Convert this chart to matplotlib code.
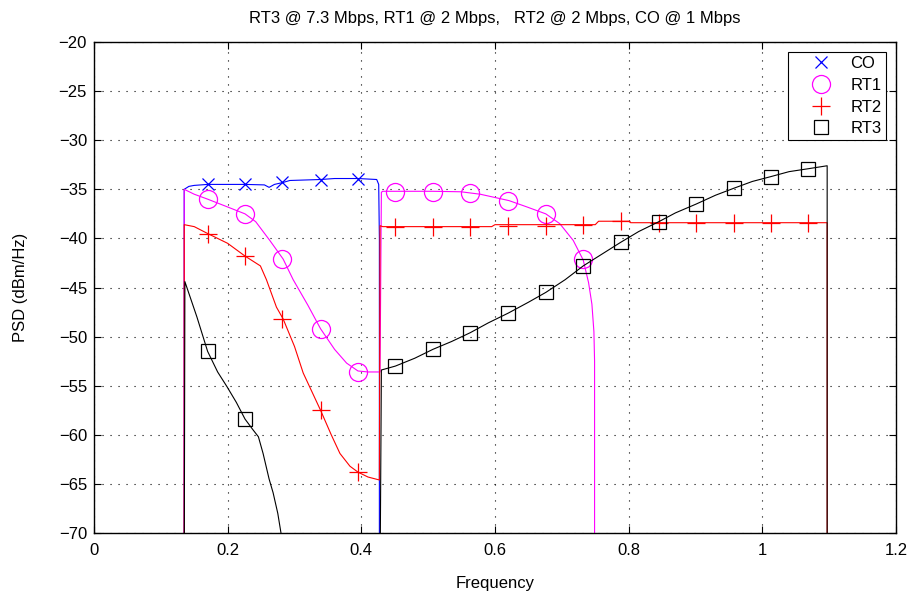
import numpy as np
import matplotlib
matplotlib.use("Agg")
import matplotlib.pyplot as plt

plt.rcParams['font.family'] = ['Liberation Sans', 'DejaVu Sans']

nan = np.nan

# posiciones comunes de los marcadores
mk_x = [0.170, 0.226, 0.282, 0.339, 0.395, 0.451, 0.507, 0.563, 0.620,
        0.676, 0.732, 0.788, 0.845, 0.901, 0.957, 1.013, 1.069]

# CO
co_x = [0.135, 0.135, 0.142, 0.15, 0.17, 0.226, 0.255, 0.262, 0.27, 0.283,
        0.293, 0.339, 0.36, 0.395, 0.423, 0.426, 0.427, 0.427]
co_y = [-75, -35.0, -34.7, -34.6, -34.5, -34.5, -34.55, -34.8, -34.5, -34.3,
        -34.1, -34.0, -33.9, -33.9, -34.0, -34.5, -40, -75]
co_mk = [-34.5, -34.5, -34.3, -34.1, -33.9] + [nan] * 12

# RT1
rt1_x = [0.135, 0.135, 0.15, 0.17, 0.20, 0.226, 0.242, 0.263, 0.283, 0.298,
         0.32, 0.339, 0.36, 0.378, 0.395, 0.41, 0.428, 0.430, 0.432, 0.451,
         0.507, 0.549, 0.578, 0.621, 0.648, 0.676, 0.697, 0.717, 0.732, 0.740,
         0.745, 0.748, 0.749, 0.749]
rt1_y = [-75, -35.0, -35.5, -36.0, -36.8, -37.5, -38.3, -40.2, -42.1, -44.2,
         -46.8, -49.2, -51.3, -52.7, -53.5, -53.6, -53.6, -35.3, -35.2, -35.2,
         -35.2, -35.25, -35.5, -36.15, -36.8, -37.5, -38.5, -40.2, -42.2, -44.5,
         -46.7, -49.5, -52.5, -75]
rt1_mk = [-36.0, -37.5, -42.1, -49.2, -53.6, -35.25, -35.25, -35.4, -36.15,
          -37.5, -42.1] + [nan] * 6

# RT2
rt2_x = [0.135, 0.135, 0.15, 0.17, 0.20, 0.226, 0.249, 0.258, 0.273, 0.283,
         0.30, 0.313, 0.339, 0.355, 0.368, 0.383, 0.395, 0.41, 0.427, 0.428,
         0.432, 0.50, 0.595, 0.60, 0.75, 0.755, 0.80, 0.803, 1.097, 1.097]
rt2_y = [-75, -38.6, -38.8, -39.5, -40.5, -41.8, -42.8, -44.2, -47.0, -48.2,
         -51.0, -53.7, -57.5, -60.0, -61.9, -63.2, -63.8, -64.3, -64.6, -38.7,
         -38.8, -38.8, -38.8, -38.6, -38.6, -38.25, -38.25, -38.4, -38.4, -75]
rt2_mk = [-39.5, -41.8, -48.2, -57.5, -63.8, -38.8, -38.8, -38.8, -38.7,
          -38.7, -38.6, -38.2, -38.4, -38.4, -38.4, -38.4, -38.4]

# RT3
rt3_x = [0.135, 0.136, 0.145, 0.154, 0.17, 0.185, 0.199, 0.213, 0.226, 0.238,
         0.246, 0.253, 0.262, 0.268, 0.275, 0.281,
         0.428, 0.430, 0.451, 0.48, 0.507, 0.535, 0.563, 0.59, 0.62, 0.65,
         0.676, 0.705, 0.732, 0.76, 0.788, 0.815, 0.845, 0.87, 0.901, 0.93,
         0.957, 0.985, 1.013, 1.04, 1.069, 1.097, 1.097]
rt3_y = [-75, -44.4, -46.2, -48.0, -51.5, -53.6, -55.1, -56.7, -58.4, -59.5,
         -60.2, -61.9, -64.5, -65.9, -68.0, -70.5,
         -75, -53.4, -53.0, -52.2, -51.3, -50.5, -49.6, -48.6, -47.6, -46.5,
         -45.5, -44.2, -42.8, -41.6, -40.4, -39.3, -38.3, -37.4, -36.5, -35.6,
         -34.9, -34.2, -33.7, -33.2, -32.9, -32.6, -75]
rt3_mk = [-51.5, -58.4, nan, nan, nan, -53.0, -51.3, -49.6, -47.6, -45.5,
          -42.8, -40.4, -38.3, -36.5, -34.9, -33.7, -32.9]

fig = plt.figure(figsize=(9.09, 5.97), dpi=100)
ax = fig.add_axes([0.1034, 0.1072, 0.8823, 0.8224])

series = [
    ("CO", co_x, co_y, co_mk, "#0000ff", "x", 9),
    ("RT1", rt1_x, rt1_y, rt1_mk, "#ff00ff", "o", 13),
    ("RT2", rt2_x, rt2_y, rt2_mk, "#ff0000", "+", 13),
    ("RT3", rt3_x, rt3_y, rt3_mk, "#000000", "s", 10.5),
]

for nombre, xs, ys, mk, color, m, ms in series:
    ax.plot(xs, ys, color=color, lw=0.8)
    ax.plot(mk_x, mk, linestyle="none", marker=m, ms=ms, mfc="none",
            mec=color, mew=0.9, label=nombre)

ax.set_xlim(0, 1.2)
ax.set_ylim(-70, -20)
ax.set_xticks(np.arange(0, 1.21, 0.2))
ax.set_xticklabels(["0", "0.2", "0.4", "0.6", "0.8", "1", "1.2"])
ax.set_yticks(np.arange(-70, -19, 5))
ax.grid(True, linestyle=(0, (1, 6.2)), color="black", lw=0.8)
ax.tick_params(direction="in", top=True, right=True, labelsize=12, length=5)
ax.tick_params(axis="x", pad=7)
ax.tick_params(axis="y", pad=5)
for s in ax.spines.values():
    s.set_linewidth(1.0)

ax.set_xlabel("Frequency", fontsize=12, labelpad=13)
ax.set_ylabel("PSD (dBm/Hz)", fontsize=12, labelpad=22)
ax.set_title("RT3 @ 7.3 Mbps, RT1 @ 2 Mbps,   RT2 @ 2 Mbps, CO @ 1 Mbps",
             fontsize=12, pad=14)

leg = ax.legend(loc="upper right", fontsize=12, fancybox=False,
                edgecolor="black", framealpha=1, borderaxespad=0.6,
                handletextpad=0.1, labelspacing=0.4, borderpad=0.25,
                handlelength=3.4, markerscale=1.0)
leg.get_frame().set_linewidth(0.8)

fig.savefig("out.png", dpi=100)
